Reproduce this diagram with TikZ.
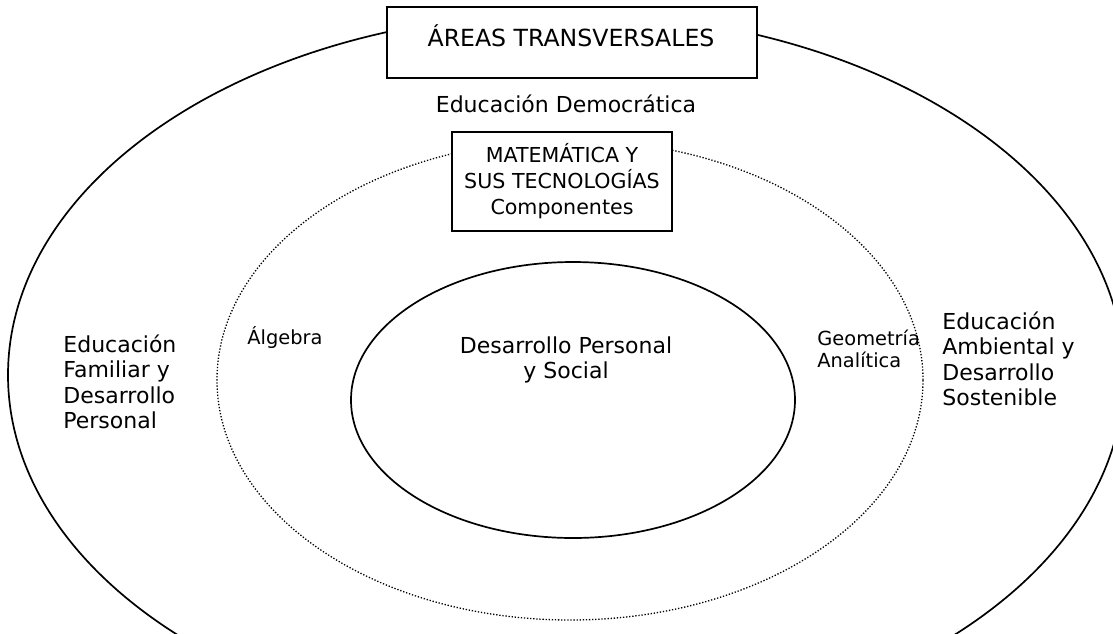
\documentclass[tikz,border=0pt]{standalone}
\usepackage{fontspec}
\setmainfont{DejaVu Sans}
\usepackage{tikz}
\usetikzlibrary{positioning}

\newcommand{\letratitulo}{\fontsize{11.8}{14}\selectfont}
\newcommand{\letranormal}{\fontsize{11}{12.8}\selectfont}
\newcommand{\letracaja}{\fontsize{10.3}{13}\selectfont}
\newcommand{\letrachica}{\fontsize{9.7}{11}\selectfont}

\tikzset{
    caja/.style={draw, line width=1pt, fill=white, inner sep=0pt},
    texto/.style={inner sep=0pt, font=\letranormal},
    chico/.style={inner sep=0pt, font=\letrachica}
}

\begin{document}
\begin{tikzpicture}[x=0.5pt, y=-0.5pt]
    \useasboundingbox (0,0) rectangle (1113,633);
    \clip (0,0) rectangle (1113,633);

    % elipse exterior
    \draw[line width=0.85pt] (566,375) ellipse [x radius=279pt, y radius=181pt];

    % elipse punteada
    \draw[line width=0.65pt, dash pattern=on 0.65pt off 0.9pt] (570,380) ellipse [x radius=176.5pt, y radius=120pt];

    % elipse interior
    \draw[line width=0.85pt] (573,400) ellipse [x radius=111pt, y radius=69pt];

    % cajas
    \node[caja, minimum width=185pt, minimum height=35.5pt] (areas) at (572,42.5) {};
    \node[inner sep=0pt, font=\letratitulo] (titulo) at (571,36) {ÁREAS TRANSVERSALES};
    \node[caja, minimum width=110pt, minimum height=49.5pt, align=center, font=\letracaja] (mate) at (562,181)
        {MATEMÁTICA Y\\SUS TECNOLOGÍAS\\Componentes};

    % textos
    \node[texto] (democ) at (566,104) {Educación Democrática};
    \node[texto, align=left, anchor=north west] (familiar) at (63,334)
        {Educación\\Familiar y\\Desarrollo\\Personal};
    \node[texto, align=left, anchor=north west] (ambiental) at (942,311)
        {Educación\\Ambiental y\\Desarrollo\\Sostenible};
    \node[texto, align=center] (nucleo) at (566,360) {Desarrollo Personal\\y Social};
    \node[chico, anchor=base west] (algebra) at (247,344) {Álgebra};
    \node[chico, align=left, anchor=north west] (geometria) at (817,330) {Geometría\\Analítica};
\end{tikzpicture}
\end{document}
